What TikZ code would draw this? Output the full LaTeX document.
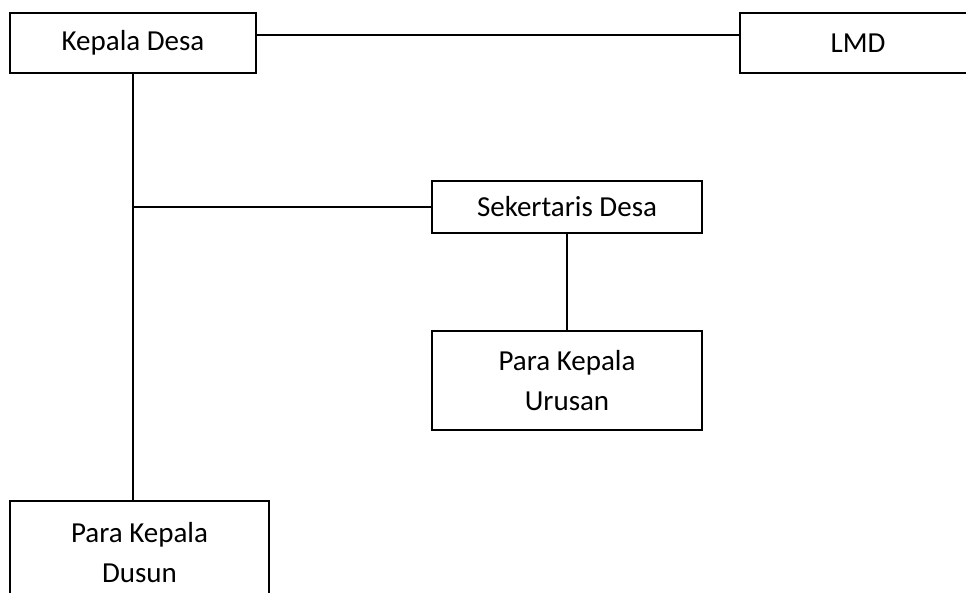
\documentclass[tikz,border=0pt]{standalone}
\usepackage{fontspec}
\setmainfont{Carlito}
\usetikzlibrary{calc}
\begin{document}
\begin{tikzpicture}[x=1pt,y=-1pt,
  box/.style={draw, line width=1.6pt, inner sep=0pt, align=center,
    font=\fontsize{29}{40}\selectfont},
  conn/.style={line width=1.6pt}]
\useasboundingbox (0,0) rectangle (966,593);
\clip (0,0) rectangle (966,593);
\node[box, minimum width=246pt, minimum height=60pt] (kd) at (133,43) {Kepala Desa};
\node[box, minimum width=236pt, minimum height=60pt] (lmd) at (858,43) {LMD};
\node[box, minimum width=270pt, minimum height=52pt] (sek) at (567,207) {Sekertaris Desa};
\node[box, minimum width=270pt, minimum height=99pt] (uru) at (567,380.5) {Para Kepala\\Urusan};
\node[box, minimum width=259pt, minimum height=104pt] (dus) at (139.5,553) {Para Kepala\\Dusun};
\draw[conn] ($(kd.north east)!0.367!(kd.south east)$) -- ($(lmd.north west)!0.367!(lmd.south west)$);
\draw[conn] (kd.south) -- (kd.south |- dus.north);
\draw[conn] (sek.west) -- (sek.west -| kd.south);
\draw[conn] (sek.south) -- (uru.north);
\end{tikzpicture}
\end{document}
